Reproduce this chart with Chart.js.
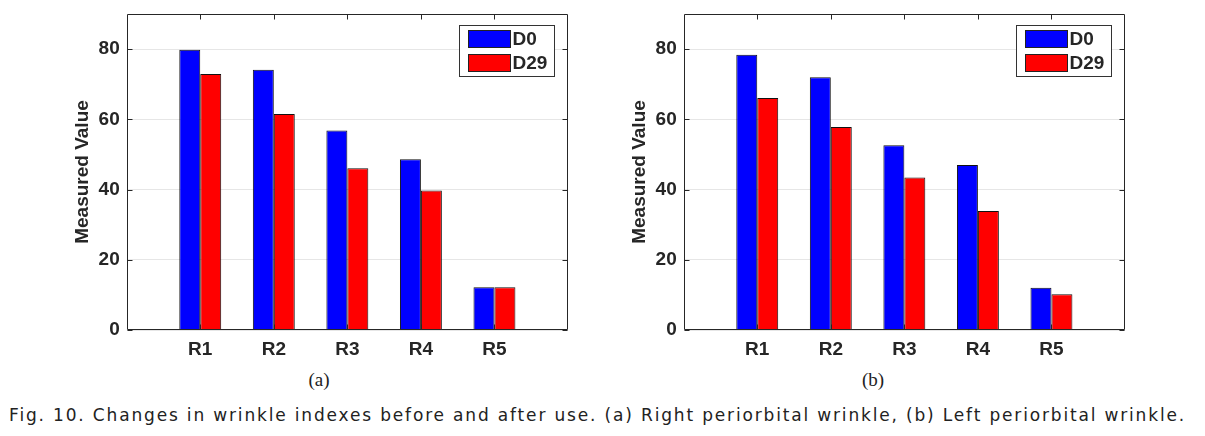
<!DOCTYPE html>
<html><head><meta charset="utf-8">
<script src="https://cdn.jsdelivr.net/npm/chart.js@4.4.1/dist/chart.umd.min.js"></script>
<style>
html,body{margin:0;padding:0;background:#fff;width:1205px;height:436px;overflow:hidden;position:relative}
.wrap{position:absolute;top:0;width:600px;height:365px}
#wa{left:0}
#wb{left:557px}
.sub{position:absolute;top:369px;font-family:'Liberation Serif','DejaVu Serif',serif;font-size:19px;color:#222;transform:translateX(-50%)}
#cap{position:absolute;left:9px;top:405px;font-family:'DejaVu Sans',sans-serif;font-size:17px;color:#222;white-space:nowrap}
</style></head><body>
<div class="wrap" id="wa"><canvas id="ca" width="600" height="365"></canvas></div>
<div class="wrap" id="wb"><canvas id="cb" width="600" height="365"></canvas></div>
<div class="sub" style="left:319px">(a)</div>
<div class="sub" style="left:873px">(b)</div>
<div id="cap">Fig. 10. Changes in wrinkle indexes before and after use. (a) Right periorbital wrinkle, (b) Left periorbital wrinkle.</div>
<script>
const categories = ['R1','R2','R3','R4','R5'];
const seriesNames = ['D0','D29'];
const rightD0  = [79.8, 74.1, 56.8, 48.6, 12.2];
const rightD29 = [72.9, 61.5, 46.1, 39.7, 12.2];
const leftD0   = [78.4, 72.0, 52.6, 47.0, 12.0];
const leftD29  = [66.1, 57.8, 43.4, 33.9, 10.2];
const yTicks = [0, 20, 40, 60, 80];
const yMax = 90;
const yTitle = 'Measured Value';
const colors = ['#0000ff', '#ff0000'];

// caption fit
(function(){
  const cap = document.getElementById('cap');
  const target = 1177;
  const w = cap.getBoundingClientRect().width;
  const n = cap.textContent.length;
  cap.style.letterSpacing = ((target - w) / n) + 'px';
})();

const labels = [''].concat(categories, ['']);
const pad = arr => [null].concat(arr, [null]);
const FONT = '"Liberation Sans", Arial, sans-serif';

const frame = {
  id: 'frame',
  afterDatasetsDraw(chart) {
    const {ctx, chartArea: a, scales: {x, y}} = chart;
    ctx.save();
    ctx.strokeStyle = '#262626';
    ctx.lineWidth = 1;
    const l = Math.round(a.left) + 0.5, r = Math.round(a.right) - 0.5;
    const t = Math.round(a.top) + 0.5, b = Math.round(a.bottom) - 0.5;
    ctx.beginPath();
    ctx.rect(l, t, r - l, b - t);
    const L = 5;
    yTicks.forEach(v => {
      const py = Math.round(y.getPixelForValue(v)) + 0.5;
      ctx.moveTo(l, py); ctx.lineTo(l + L, py);
      ctx.moveTo(r, py); ctx.lineTo(r - L, py);
    });
    categories.forEach((c, i) => {
      const px = Math.round(x.getPixelForTick(i + 1)) + 0.5;
      ctx.moveTo(px, t); ctx.lineTo(px, t + L);
      ctx.moveTo(px, b); ctx.lineTo(px, b - L);
    });
    ctx.stroke();

    // legend
    const bw = 95, bh = 51;
    const bx = Math.round(a.right - 13.7 - bw) + 0.5, by = Math.round(a.top + 11) + 0.5;
    ctx.fillStyle = '#fff';
    ctx.fillRect(bx, by, bw, bh);
    ctx.strokeStyle = '#333';
    ctx.strokeRect(bx, by, bw, bh);
    ctx.font = 'bold 19px ' + FONT;
    ctx.textBaseline = 'middle';
    ctx.textAlign = 'left';
    chart.data.datasets.forEach((ds, i) => {
      const sy = by + 5 + i * 24;
      ctx.fillStyle = ds.backgroundColor;
      ctx.fillRect(bx + 9, sy, 42, 17);
      ctx.strokeStyle = '#222';
      ctx.strokeRect(bx + 9, sy, 42, 17);
      ctx.fillStyle = '#262626';
      ctx.fillText(ds.label, bx + 53, sy + 9.5);
    });
    ctx.restore();
  }
};

function make(id, d0, d29) {
  new Chart(document.getElementById(id), {
    type: 'bar',
    data: {
      labels: labels,
      datasets: [
        {label: seriesNames[0], data: pad(d0), backgroundColor: colors[0], borderColor: '#111', borderWidth: 1, categoryPercentage: 0.57, barPercentage: 1},
        {label: seriesNames[1], data: pad(d29), backgroundColor: colors[1], borderColor: '#111', borderWidth: 1, categoryPercentage: 0.57, barPercentage: 1}
      ]
    },
    options: {
      responsive: false,
      animation: false,
      layout: {padding: {left: 71, top: 14, right: 32, bottom: 0}},
      plugins: {legend: {display: false}, tooltip: {enabled: false}},
      scales: {
        x: {
          offset: false,
          grid: {display: false, drawTicks: false},
          border: {display: false},
          ticks: {color: '#262626', font: {family: FONT, size: 19, weight: 'bold'}, padding: 8, maxRotation: 0, autoSkip: false},
          afterFit(s) { s.height = 35; s.paddingLeft = 0; s.paddingRight = 0; }
        },
        y: {
          min: 0, max: yMax,
          grid: {color: '#e6e6e6', drawTicks: false},
          border: {display: false},
          afterBuildTicks(s) { s.ticks = yTicks.map(v => ({value: v})); },
          ticks: {color: '#262626', font: {family: FONT, size: 19, weight: 'bold'}, padding: 7},
          title: {display: true, text: yTitle, color: '#262626', font: {family: FONT, size: 19, weight: 'bold'}, padding: 0},
          afterFit(s) { s.width = 55.7; s.paddingTop = 0; s.paddingBottom = 0; }
        }
      }
    },
    plugins: [frame]
  });
}
make('ca', rightD0, rightD29);
make('cb', leftD0, leftD29);
</script>
</body></html>
